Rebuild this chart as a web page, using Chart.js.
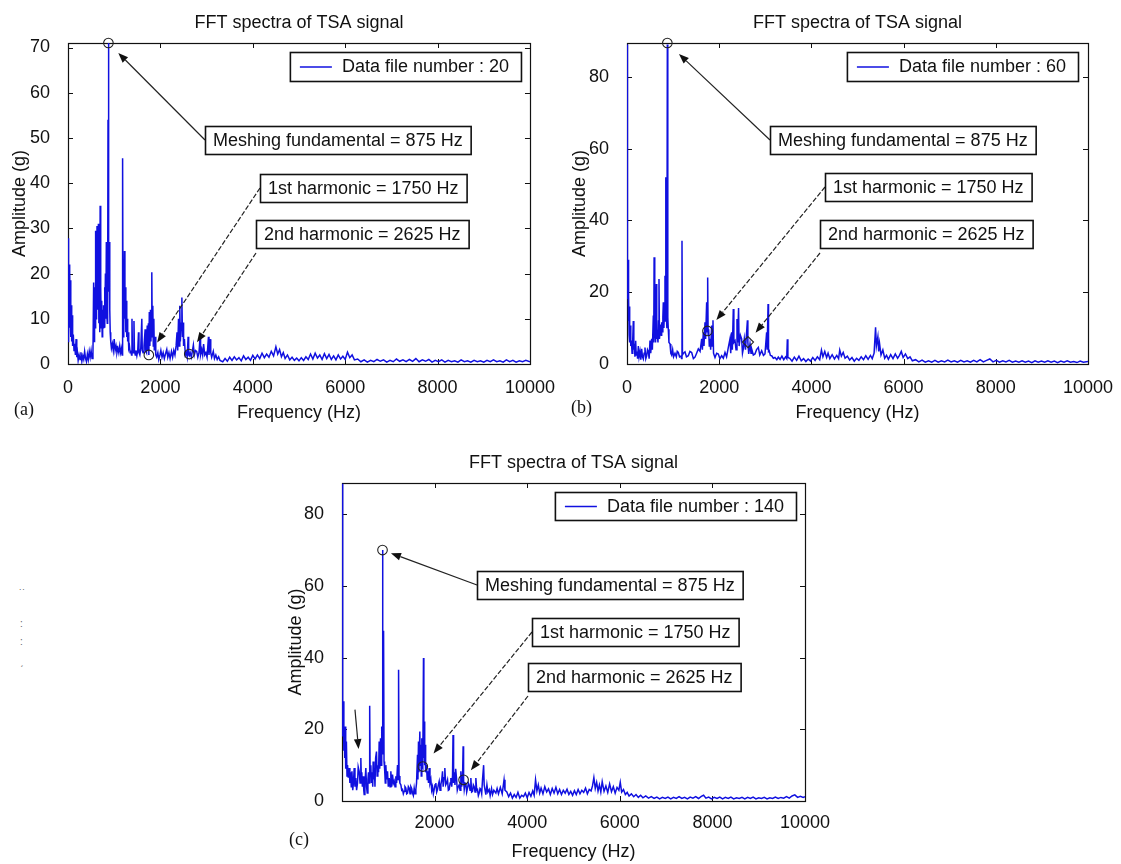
<!DOCTYPE html>
<html>
<head>
<meta charset="utf-8">
<script src="https://cdn.jsdelivr.net/npm/chart.js@4.4.0/dist/chart.umd.min.js"></script>
<style>
  body { margin: 0; background: #fff; width: 1121px; height: 864px; position: relative; overflow: hidden; }
  canvas { position: absolute; }
  .smudge { position: absolute; font: 10px "Liberation Sans", Arial, sans-serif; color: #666; }
</style>
</head>
<body>
<canvas id="panelA" width="560" height="430" style="left:0px;top:0px"></canvas>
<canvas id="panelB" width="561" height="430" style="left:560px;top:0px"></canvas>
<canvas id="panelC" width="600" height="424" style="left:260px;top:440px"></canvas>
<span class="smudge" style="left:19px;top:588px">˙˙</span>
<span class="smudge" style="left:20px;top:618px">:</span>
<span class="smudge" style="left:20px;top:636px">:</span>
<span class="smudge" style="left:20px;top:656px">ˏ</span>
<script>
// ---- data: [frequency Hz, amplitude g] ----
const xTicks = [0, 2000, 4000, 6000, 8000, 10000];
const yTicksA = [0, 10, 20, 30, 40, 50, 60, 70];
const yTicksB = [0, 20, 40, 60, 80];
const yTicksC = [0, 20, 40, 60, 80];

const specA = [
  [0,5],[8,27.8],[16,14],[24,22],[32,8],[40,20.5],[48,11],[56,18.5],[64,6],[72,13],[80,5],[90,10.8],[100,4],[115,6.5],[130,3],[145,4.5],[160,2],[175,5.5],[190,1.5],[205,2.5],[220,0.8],[240,2],[260,1],[280,2.6],[300,0.6],[320,1.8],[340,1],[360,2.8],[380,1.2],[400,0.5],[420,2.2],[440,1],[460,2.8],[480,1.5],[500,3],[520,1.2],[540,2],
  [555,18],[565,5],[575,17],[585,8],[598,29.5],[608,10],[618,14],[628,30.5],[638,12],[648,19],[658,31],[668,9],[678,16],[688,7],[696,35],[704,11],[712,17],[720,8],[730,14],[740,6],[750,12],[760,8],[770,13],[780,9],[790,17],[800,8],[810,20],[820,10],[830,27],[840,11],[850,9],[858,13],[866,54],[875,71],[884,16],[894,27],[904,12],[914,7],[925,5],[940,3.5],[960,4.5],[980,3],[1000,5.5],[1020,3],[1040,4],[1060,2.5],[1080,3.5],[1100,2.5],[1120,4],[1140,2.5],[1160,3.5],[1172,2],
  [1182,45.5],[1192,6],[1202,22.5],[1212,8],[1222,25],[1232,10],[1242,17],[1252,7],[1262,14],[1272,6],[1282,10],[1292,5],[1302,7],[1315,3.5],[1330,4],[1345,2.5],[1360,3],[1375,2],[1385,10],[1395,3],[1410,2.5],[1428,9.5],[1438,3],[1455,2],[1470,3],[1490,1.8],[1510,3],[1526,7],[1536,2.5],[1555,2],[1575,3.5],[1598,10],[1608,3],[1625,2.5],[1645,4],[1670,7.7],[1680,3],[1700,2.5],[1715,8.5],[1725,3],[1740,9],[1750,2],[1760,11.5],[1772,4],[1785,12],[1795,5],[1805,9],[1814,20.3],[1824,6],[1836,12.9],[1846,4],[1858,10],[1868,3],[1885,6],[1900,2],
  [1920,1.5],[1945,2.5],[1965,1],[1990,2],[2010,3],[2035,1.5],[2060,2.5],[2085,1.2],[2110,2.2],[2138,3.2],[2160,1.5],[2185,2.5],[2210,1.2],[2240,2.8],[2265,1.5],[2290,3],[2315,2],[2340,4],[2360,7],[2375,3],[2392,10],[2405,4],[2420,12.9],[2432,5],[2450,9],[2465,14.7],[2478,6],[2490,9.2],[2502,4],[2520,5.5],[2540,2],[2560,2.5],[2580,1.5],[2600,6],[2612,2],[2625,1.8],[2645,2.5],[2670,1.5],[2695,3],[2714,4.2],[2735,2],[2760,3],[2786,2.8],[2810,1.5],[2835,2.5],[2858,5.8],[2870,2],[2895,3.2],[2915,2],[2935,4.4],[2960,2],[2985,2.5],[3010,1.5],[3040,6],[3052,2],[3075,5.5],[3090,2.5],[3110,1.5],[3145,2.8],[3170,1.2],[3200,2],[3230,1],[3260,1.6],[3290,0.8],
  [3350,0.5],[3400,1.2],[3450,0.6],[3500,1.5],[3550,0.8],[3600,1.6],[3650,0.9],[3700,1.4],[3750,0.7],[3800,1.8],[3850,1.0],[3900,1.5],[3950,0.8],[4000,1.9],[4050,1.1],[4100,2.0],[4150,1.2],[4200,2.4],[4250,1.4],[4300,2.2],[4350,1.5],[4400,2.8],[4450,1.8],[4500,3.8],[4540,2.2],[4580,3.2],[4620,1.6],[4660,2.5],[4700,1.2],[4750,2.0],[4800,0.9],[4850,1.5],[4900,0.8],[4950,1.3],[5000,0.7],[5050,1.4],[5100,0.8],[5150,1.6],[5200,1.0],[5250,2.2],[5300,1.1],[5350,2.4],[5400,1.3],[5450,2.0],[5500,1.0],[5550,2.3],[5600,1.2],[5650,2.1],[5700,1.0],[5750,1.8],[5800,0.9],[5850,2.0],[5900,1.1],[5950,1.7],[6000,1.0],[6050,2.6],[6100,1.4],[6150,2.0],[6200,0.9],
  [6270,1.1],[6340,0.5],[6410,0.9],[6480,0.4],[6550,0.8],[6620,0.5],[6690,1.0],[6760,0.6],[6830,0.9],[6900,0.4],[6970,0.8],[7040,0.5],[7110,1.1],[7180,0.6],[7250,0.9],[7320,0.5],[7390,1.0],[7460,0.6],[7530,1.2],[7600,0.5],[7670,0.9],[7740,0.6],[7810,1.0],[7880,0.4],[7950,0.8],[8020,0.5],[8090,0.9],[8160,0.4],[8230,0.8],[8300,0.5],[8370,0.7],[8440,0.4],[8510,0.9],[8580,0.5],[8650,0.7],[8720,0.4],[8790,0.8],[8860,0.5],[8930,0.7],[9000,0.4],[9070,0.8],[9140,0.5],[9210,0.9],[9280,0.5],[9350,0.7],[9420,0.4],[9490,0.9],[9560,0.5],[9630,0.8],[9700,0.4],[9770,0.7],[9840,0.5],[9910,0.8],[10000,0.5]
];

const specB = [
  [0,89],[6,48.3],[14,18],[22,29],[30,12],[38,19],[46,8],[54,16],[62,6],[72,10.7],[82,5],[95,6.5],[110,3],[125,7],[137,12],[148,4],[159,5.6],[172,2],[188,6.5],[200,2.5],[215,3.5],[230,1.5],[246,5],[262,2],[282,3.5],[300,1.2],[318,4.2],[336,2],[354,1.4],[372,3],[390,4.6],[408,1.5],[427,2.3],[445,4],[463,3.5],[480,1.5],[499,6.5],[515,3],[535,7],[550,4],
  [571,13.5],[580,6],[588,29.7],[597,8],[607,9.7],[620,6],[636,22.3],[645,7],[658,8],[672,6],[684,12],[694,23.7],[704,7],[716,9],[730,11],[744,8],[752,11.6],[765,9],[778,13],[788,17.2],[800,10],[812,14],[824,24.6],[832,12],[842,52],[852,14],[865,10],[875,89],[885,13],[896,9.7],[910,6],[933,5.6],[950,3],[969,2.5],[990,4],[1010,2],[1041,3],[1070,2],[1090,3.5],[1113,3.2],[1140,2],[1171,2.2],[1183,1.5],[1193,34.3],[1203,2.5],[1225,3],[1258,3.4],[1290,2],[1330,2.3],[1365,3.5],[1403,3.2],[1440,1.5],[1475,1.9],[1510,3],[1547,4.2],[1585,3.5],
  [1620,7],[1635,4],[1656,8.8],[1670,5],[1692,11.6],[1705,7],[1728,17.2],[1740,9],[1750,24.1],[1760,8],[1771,9.7],[1785,5],[1800,7],[1815,4],[1836,10.7],[1850,5],[1865,12.2],[1877,3],[1890,2.5],[1909,1.8],[1945,3],[1981,2.8],[2015,1.5],[2053,2.3],[2090,1.6],[2126,3.2],[2160,2],[2198,4.6],[2234,7],[2250,3],[2270,8.8],[2285,4],[2306,15.3],[2318,6],[2343,6.5],[2365,4],[2386,12.5],[2400,6],[2420,15.6],[2432,5],[2460,8],[2487,7],[2505,3],[2523,4.2],[2545,7],[2559,7],[2570,4],[2590,8],[2612,12.2],[2622,6],[2640,2.8],[2668,5.6],[2690,3],[2704,4.2],[2740,2.5],[2776,2.8],[2810,4],[2849,4.6],[2880,2.5],[2921,3.7],[2960,2.4],[2993,2.8],[3029,8.8],[3040,4],[3060,16.7],[3070,3.5],[3085,3.7],[3110,2.4],[3138,2.3],[3175,1.6],[3210,1.8],[3250,1.2],[3282,1.9],
  [3320,1.3],[3360,2.2],[3400,1.2],[3440,2.0],[3465,1.5],[3478,6.9],[3490,1.8],[3530,1.6],[3580,0.8],[3630,1.9],[3680,1.0],[3730,2.2],[3780,0.9],[3830,1.5],[3880,0.7],[3930,1.4],[3980,0.8],[4030,1.8],[4080,1.0],[4130,2.0],[4180,1.2],[4218,3.9],[4250,2.0],[4290,3.5],[4330,1.8],[4362,3.0],[4400,1.5],[4450,2.6],[4500,1.4],[4550,2.4],[4590,1.5],[4615,3.9],[4650,2.2],[4690,3.2],[4730,1.6],[4780,2.2],[4830,1.1],[4880,1.8],[4930,0.8],[4980,1.6],[5030,1.0],[5080,2.0],[5130,1.2],[5180,2.3],[5230,1.3],[5280,2.4],[5320,1.5],[5360,3.0],[5392,10.2],[5410,5.0],[5442,7.6],[5460,3.5],[5478,5.8],[5510,2.5],[5550,3.9],[5590,1.6],[5630,2.4],[5670,1.3],[5720,2.6],[5770,1.5],[5820,2.8],[5870,1.6],[5910,2.4],[5950,3.5],[5990,1.8],[6040,2.8],[6090,1.5],[6140,2.0],[6190,0.9],
  [6260,1.2],[6330,0.6],[6400,1.1],[6470,0.5],[6540,0.9],[6610,0.5],[6680,1.0],[6750,0.5],[6820,0.9],[6890,0.6],[6960,1.1],[7030,0.6],[7100,0.9],[7170,0.5],[7240,1.0],[7310,0.6],[7380,0.9],[7450,0.5],[7520,1.0],[7590,0.6],[7660,1.2],[7730,0.6],[7800,1.0],[7870,1.4],[7940,0.6],[8010,1.0],[8080,0.5],[8150,0.9],[8220,0.6],[8290,1.0],[8360,0.5],[8430,0.8],[8500,0.5],[8570,0.9],[8640,0.5],[8710,0.8],[8780,0.4],[8850,0.9],[8920,0.5],[8990,0.8],[9060,0.5],[9130,0.9],[9200,0.5],[9270,0.8],[9340,0.4],[9410,0.8],[9480,0.5],[9550,0.9],[9620,0.5],[9690,0.7],[9760,0.4],[9830,0.8],[9900,0.5],[10000,0.7]
];

const specC = [
  [0,88.5],[10,41.7],[20,18],[30,27.8],[40,14],[50,20],[60,12],[70,20.8],[80,9],[95,16.6],[108,7],[120,10],[135,6.5],[155,9.2],[170,5],[185,8],[200,4],[215,8.3],[232,3],[247,5],[263,9.2],[280,4],[299,6.4],[315,3],[335,5],[350,9.5],[371,8.3],[390,5],[407,12],[418,6],[428,8],[440,4],[457,6.9],[470,3],[479,1.8],[495,5],[515,9.2],[530,4],[544,2.2],[560,6],[572,8],[585,5],
  [598,26.6],[608,7],[623,10],[635,5],[650,8],[664,4],[673,11],[688,6],[700,9],[712,4],[726,12],[745,13.8],[758,7],[774,10],[790,8],[803,16.6],[815,9],[832,17.5],[845,10],[858,20.8],[867,14],[875,70],[884,13],[898,47.5],[908,11],[920,9],[935,5],[947,10],[962,6],[983,8.3],[1000,4],[1019,6.4],[1037,4],[1055,8.3],[1072,4],[1091,7.4],[1110,5],[1127,5.6],[1145,4],[1163,6.9],[1180,5],[1199,10],[1210,6],[1222,36.6],[1232,7],[1250,5],[1271,4.5],[1290,3],[1307,3.2],[1325,2],[1343,2.7],[1360,4],[1379,3.6],[1397,2],[1415,2.2],[1433,4],[1451,3.6],[1470,2],[1487,4],[1505,3.5],[1523,2.2],[1541,1.5],[1559,3.6],[1577,2],[1595,3.2],
  [1610,5],[1631,12.9],[1640,6],[1652,16.6],[1662,8],[1681,19.4],[1690,10],[1703,15.7],[1712,7],[1724,17.5],[1735,10],[1745,9.6],[1760,39.9],[1768,12],[1778,22.2],[1786,10],[1796,15.7],[1806,8],[1825,10],[1840,6],[1854,8.3],[1868,5],[1883,9.2],[1900,5],[1919,6],[1937,3],[1955,4],[1973,2],[1991,3.2],[2010,4.5],[2027,5],[2045,2.5],[2063,3.2],[2080,4.5],[2099,5.5],[2117,3],[2135,4.6],[2155,6],[2171,8.3],[2185,4],[2205,6.5],[2221,9.2],[2240,4.5],[2260,5],[2279,5.9],[2297,3],[2315,3.2],[2335,5],[2351,6.4],[2370,4],[2387,7],[2398,18.4],[2410,5],[2423,8],[2440,4.5],[2455,9],[2473,6.4],[2490,3],[2510,4],[2531,4.5],[2550,3],[2567,8.3],[2585,4],[2603,6],[2616,15.3],[2626,5.9],[2640,3.2],[2660,5],[2675,4.9],[2693,2.5],[2711,3.6],[2730,5],[2747,4.5],[2765,3],[2783,6.4],[2800,2.5],[2819,2.7],[2837,4.5],[2855,4],[2873,2.5],[2891,6.4],[2910,3],[2927,3.2],[2945,1.5],[2963,2.2],[2981,3.5],[2999,3.2],[3017,2],[3035,6],[3059,10],[3071,4.5],[3090,3],[3107,1.8],[3130,4.5],[3150,2.5],[3179,3.2],[3200,1.5],[3230,3.5],[3251,1.8],[3280,3],[3323,2.2],
  [3350,3.5],[3380,2],[3420,3.8],[3460,2],[3500,5.9],[3520,3],[3560,2.5],[3600,1.2],[3640,2.2],[3680,0.8],[3720,1.8],[3760,1],[3800,2.4],[3840,0.8],[3880,1.6],[3920,1.2],[3960,2.2],[4000,0.9],[4040,2.4],[4080,1.3],[4120,2.8],[4150,1.6],[4180,5.9],[4210,2.8],[4240,4.5],[4270,2.2],[4300,3.6],[4340,2],[4380,4],[4420,2.5],[4460,3.4],[4500,1.8],[4540,3.5],[4580,2.2],[4620,3.8],[4660,2],[4700,3.2],[4740,1.8],[4780,3],[4820,2.2],[4860,3.3],[4900,1.8],[4940,2.7],[4980,1.6],[5020,2.9],[5060,1.8],[5100,3.2],[5140,2],[5180,3],[5220,2.4],[5260,3.6],[5300,2],[5340,3.2],[5380,2.8],[5410,4.2],[5440,6.5],[5470,3.5],[5500,5.2],[5530,2.8],[5560,4.5],[5590,2.5],[5620,5.4],[5660,2.7],[5700,4.2],[5740,2.4],[5780,4.8],[5820,2.6],[5860,4],[5900,2.2],[5940,3.8],[5980,3],[6010,5.2],[6040,2.5],[6080,3.2],[6120,1.8],[6160,2.4],[6200,1.4],
  [6250,2],[6300,1.2],[6350,1.8],[6400,1],[6450,1.6],[6500,0.9],[6560,1.4],[6620,0.8],[6680,1.2],[6740,0.7],[6800,1.1],[6860,0.6],[6920,1.0],[6980,0.7],[7040,1.1],[7100,0.6],[7160,1.0],[7220,0.7],[7280,1.2],[7340,0.7],[7400,1.0],[7460,0.6],[7520,1.1],[7580,0.8],[7640,1.2],[7700,0.7],[7760,1.3],[7810,1.6],[7860,0.8],[7920,1.1],[7980,0.6],[8040,1.0],[8100,0.7],[8160,1.1],[8220,0.6],[8280,1.0],[8340,0.7],[8400,1.1],[8460,0.6],[8520,0.9],[8580,0.7],[8640,1.0],[8700,0.6],[8760,1.0],[8820,0.7],[8880,1.1],[8940,0.6],[9000,0.9],[9060,0.7],[9120,1.0],[9180,0.6],[9240,0.9],[9300,0.7],[9360,1.1],[9420,0.7],[9480,1.0],[9540,0.8],[9600,1.2],[9660,0.8],[9720,1.4],[9780,1.7],[9840,1.0],[9900,1.3],[9960,1.0],[10000,1.2]
];

// marked points: fundamental, 1st harmonic, 2nd harmonic
const markFreqA = [875, 1750, 2625], markAmpA = [71, 2.0, 2.2];
const markFreqB = [875, 1746, 2625], markAmpB = [89.4, 9.2, 6.1];
const markFreqC = [875, 1745, 2626], markAmpC = [70, 9.6, 5.9];

const boxTexts = ['Meshing fundamental = 875 Hz', '1st harmonic = 1750 Hz', '2nd harmonic = 2625 Hz'];
const TITLE = 'FFT spectra of TSA signal';
const FONT = '"Liberation Sans", Arial, Helvetica, sans-serif';
const LINE_BLUE = '#1010e0';
const INK = '#111';

function drawArrow(ctx, x1, y1, x2, y2, dashed) {
  const ang = Math.atan2(y2 - y1, x2 - x1);
  const L = 10, W = 3.8;
  const bx = x2 - L * Math.cos(ang), by = y2 - L * Math.sin(ang);
  ctx.strokeStyle = '#222';
  ctx.lineWidth = 1.2;
  ctx.setLineDash(dashed ? [5, 2] : []);
  ctx.beginPath(); ctx.moveTo(x1, y1); ctx.lineTo(bx, by); ctx.stroke();
  ctx.setLineDash([]);
  ctx.fillStyle = '#111';
  ctx.beginPath();
  ctx.moveTo(x2, y2);
  ctx.lineTo(bx + W * Math.sin(ang), by - W * Math.cos(ang));
  ctx.lineTo(bx - W * Math.sin(ang), by + W * Math.cos(ang));
  ctx.closePath(); ctx.fill();
}

function makeDecor(cfg) {
  return {
    id: 'matlabDecor',
    beforeDatasetsDraw(chart) {
      const { ctx, chartArea: ca, scales: { x, y } } = chart;
      ctx.save();
      ctx.strokeStyle = '#111';
      ctx.lineWidth = 1;
      ctx.beginPath();
      x.ticks.forEach(t => {
        const p = Math.round(x.getPixelForValue(t.value)) + 0.5;
        ctx.moveTo(p, ca.bottom); ctx.lineTo(p, ca.bottom - 5);
        ctx.moveTo(p, ca.top); ctx.lineTo(p, ca.top + 5);
      });
      y.ticks.forEach(t => {
        const p = Math.round(y.getPixelForValue(t.value)) + 0.5;
        ctx.moveTo(ca.left, p); ctx.lineTo(ca.left + 5, p);
        ctx.moveTo(ca.right, p); ctx.lineTo(ca.right - 5, p);
      });
      ctx.stroke();
      ctx.lineWidth = 1.2;
      ctx.strokeRect(Math.round(ca.left) + 0.5, Math.round(ca.top) + 0.5, Math.round(ca.width), Math.round(ca.height));
      ctx.restore();
    },
    afterDraw(chart) {
      const { ctx, chartArea: ca, scales: { x, y } } = chart;
      ctx.save();
      ctx.fillStyle = INK;
      ctx.font = '18px ' + FONT;
      ctx.textAlign = 'center';
      ctx.textBaseline = 'middle';
      ctx.fillText(TITLE, (ca.left + ca.right) / 2, ca.top - 20);

      // legend
      const lt = 'Data file number : ' + cfg.fileNo;
      const lw = ctx.measureText(lt).width;
      const lbW = 52 + lw + 12;
      const lbX = ca.right - cfg.legendInset - lbW, lbY = ca.top + 9, lbH = cfg.legendH;
      ctx.fillStyle = '#fff'; ctx.fillRect(lbX, lbY, lbW, lbH);
      ctx.strokeStyle = '#111'; ctx.lineWidth = 1.6; ctx.strokeRect(lbX + 0.5, lbY + 0.5, lbW, lbH);
      ctx.strokeStyle = LINE_BLUE; ctx.lineWidth = 1.4;
      ctx.beginPath(); ctx.moveTo(lbX + 10, lbY + lbH / 2 + 0.5); ctx.lineTo(lbX + 42, lbY + lbH / 2 + 0.5); ctx.stroke();
      ctx.fillStyle = INK; ctx.textAlign = 'left';
      ctx.fillText(lt, lbX + 52, lbY + lbH / 2 + 1);

      // markers
      ctx.strokeStyle = '#222'; ctx.lineWidth = 1.1;
      cfg.markF.forEach((f, i) => {
        const px = x.getPixelForValue(f), py = y.getPixelForValue(cfg.markA[i]);
        ctx.beginPath();
        if (cfg.diamond === i) {
          ctx.moveTo(px, py - 5.5); ctx.lineTo(px + 5.5, py); ctx.lineTo(px, py + 5.5); ctx.lineTo(px - 5.5, py); ctx.closePath();
        } else {
          ctx.arc(px, py, 4.8, 0, Math.PI * 2);
        }
        ctx.stroke();
      });

      // annotation boxes and arrows
      cfg.boxes.forEach((b, i) => {
        const tw = ctx.measureText(boxTexts[i]).width;
        const bx = ca.left + b.dx, by = ca.top + b.dy, bw = tw + 16, bh = 28;
        const sx = bx, sy = b.below ? by + bh + 5 : by + bh / 2;
        const tx = x.getPixelForValue(cfg.markF[i]), ty = y.getPixelForValue(cfg.markA[i]);
        const len = Math.hypot(tx - sx, ty - sy);
        const ex = tx - (tx - sx) / len * b.gap, ey = ty - (ty - sy) / len * b.gap;
        drawArrow(ctx, sx, sy, ex, ey, i > 0);
        ctx.fillStyle = '#fff'; ctx.fillRect(bx, by, bw, bh);
        ctx.strokeStyle = '#111'; ctx.lineWidth = 1.6; ctx.strokeRect(bx + 0.5, by + 0.5, bw, bh);
        ctx.fillStyle = INK; ctx.textAlign = 'center';
        ctx.fillText(boxTexts[i], bx + bw / 2, by + bh / 2 + 1);
      });

      if (cfg.extraArrow) {
        const e = cfg.extraArrow;
        drawArrow(ctx, x.getPixelForValue(e[0]), y.getPixelForValue(e[1]), x.getPixelForValue(e[2]), y.getPixelForValue(e[3]), false);
      }

      // panel letter
      ctx.font = '18px "Liberation Serif", "Times New Roman", serif';
      ctx.textAlign = 'left';
      ctx.fillStyle = INK;
      ctx.fillText(cfg.letter, cfg.letterX, cfg.letterY);
      ctx.restore();
    }
  };
}

function makePanel(cfg) {
  const ctx = document.getElementById(cfg.id).getContext('2d');
  return new Chart(ctx, {
    type: 'line',
    data: {
      datasets: [{
        data: cfg.spec.map(p => ({ x: p[0], y: p[1] })),
        borderColor: LINE_BLUE,
        borderWidth: 1.5,
        pointRadius: 0,
        tension: 0,
        fill: false
      }]
    },
    options: {
      responsive: false,
      animation: false,
      devicePixelRatio: 1,
      layout: { padding: { left: 0, top: 43, right: cfg.padRight, bottom: 0 } },
      plugins: { legend: { display: false }, tooltip: { enabled: false }, title: { display: false } },
      scales: {
        x: {
          type: 'linear', min: 0, max: 10000,
          afterBuildTicks: s => { s.ticks = xTicks.map(v => ({ value: v })); },
          afterFit: s => { s.height = cfg.xAxisH; },
          grid: { display: false }, border: { display: false },
          ticks: {
            color: INK, padding: cfg.xTickPad, maxRotation: 0, autoSkip: false,
            font: { family: FONT, size: 18 },
            callback: v => (cfg.hideZero && v === 0) ? '' : String(v)
          },
          title: { display: true, text: 'Frequency (Hz)', color: INK, font: { family: FONT, size: 18 }, padding: { top: 0, bottom: cfg.xTitlePad } }
        },
        y: {
          type: 'linear', min: 0, max: cfg.yMax,
          afterBuildTicks: s => { s.ticks = cfg.yTicks.map(v => ({ value: v })); },
          afterFit: s => { s.width = cfg.yAxisW; },
          grid: { display: false }, border: { display: false },
          ticks: { color: INK, padding: 10, font: { family: FONT, size: 18 } },
          title: { display: true, text: 'Amplitude (g)', color: INK, font: { family: FONT, size: 18 }, padding: { top: cfg.yTitlePad, bottom: 0 } }
        }
      }
    },
    plugins: [makeDecor(cfg)]
  });
}

makePanel({
  id: 'panelA', spec: specA, yMax: 71, yTicks: yTicksA, fileNo: 20,
  yAxisW: 68, xAxisH: 66, padRight: 30, xTickPad: 5, xTitlePad: 6, yTitlePad: 9, hideZero: false,
  legendInset: 9, legendH: 29,
  markF: markFreqA, markA: markAmpA, diamond: -1,
  boxes: [ { dx: 137, dy: 83, gap: 14, below: false }, { dx: 192, dy: 131, gap: 15, below: false }, { dx: 188, dy: 177, gap: 14, below: true } ],
  letter: '(a)', letterX: 14, letterY: 410
});

makePanel({
  id: 'panelB', spec: specB, yMax: 89.4, yTicks: yTicksB, fileNo: 60,
  yAxisW: 67, xAxisH: 66, padRight: 33, xTickPad: 5, xTitlePad: 6, yTitlePad: 9, hideZero: false,
  legendInset: 10, legendH: 29,
  markF: markFreqB, markA: markAmpB, diamond: 2,
  boxes: [ { dx: 143, dy: 83, gap: 16, below: false }, { dx: 198, dy: 130, gap: 14, below: false }, { dx: 193, dy: 177, gap: 12, below: true } ],
  letter: '(b)', letterX: 11, letterY: 408
});

makePanel({
  id: 'panelC', spec: specC, yMax: 88.7, yTicks: yTicksC, fileNo: 140,
  yAxisW: 82, xAxisH: 63, padRight: 55, xTickPad: 3, xTitlePad: 1, yTitlePad: 25, hideZero: true,
  legendInset: 9, legendH: 28,
  markF: markFreqC, markA: markAmpC, diamond: -1,
  boxes: [ { dx: 135, dy: 88, gap: 9, below: false }, { dx: 190, dy: 135, gap: 17, below: false }, { dx: 186, dy: 180, gap: 12, below: true } ],
  extraArrow: [280, 25.5, 358, 14.5],
  letter: '(c)', letterX: 29, letterY: 400
});
</script>
</body>
</html>
